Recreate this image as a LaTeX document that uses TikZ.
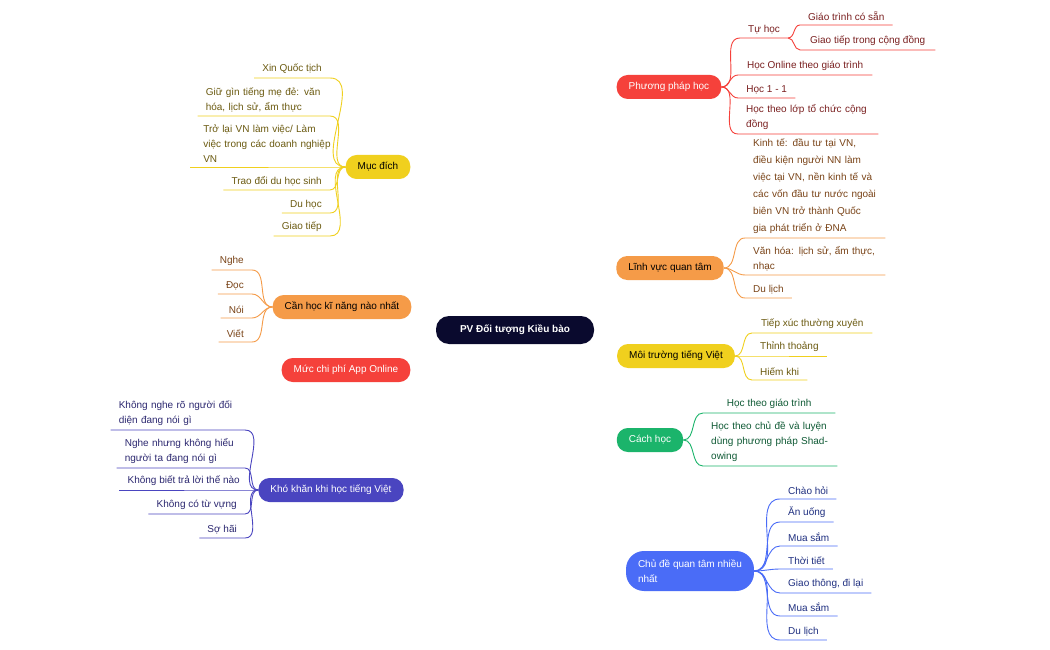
\documentclass[tikz,border=0pt]{standalone}
\usepackage{fontspec}
\setmainfont{Liberation Sans}
\usetikzlibrary{backgrounds}
\definecolor{cred}{HTML}{F5413B}\definecolor{tred}{HTML}{7A2020}
\definecolor{cora}{HTML}{F59B48}\definecolor{tora}{HTML}{7A4418}
\definecolor{cyel}{HTML}{F0D01E}\definecolor{tyel}{HTML}{6B5A10}
\definecolor{cgrn}{HTML}{1BB46B}\definecolor{tgrn}{HTML}{0F5A35}
\definecolor{cblu}{HTML}{4A6CF7}\definecolor{tblu}{HTML}{1F2F80}
\definecolor{cpur}{HTML}{4A45C0}\definecolor{tpur}{HTML}{2C2870}
\definecolor{cnav}{HTML}{0A0A2E}
\begin{document}
\begin{tikzpicture}[x=1pt,y=-1pt,font=\fontsize{10}{15}\selectfont,
 br/.style={rounded corners=11pt,minimum height=24pt,inner xsep=12pt,fill=#1,draw=none},
 lr/.style={anchor=south west,inner xsep=8pt,inner ysep=4pt,align=left},
 ll/.style={anchor=south east,inner xsep=8pt,inner ysep=4pt,align=left},
 cn/.style={line width=0.9pt}]
\fill[white] (0,0) rectangle (1050,650);
% center and branches
\node[br=cnav,text=white,font=\fontsize{10}{15}\selectfont\bfseries,minimum width=158pt,minimum height=28pt,rounded corners=13pt] (c) at (515,330) {PV Đối tượng Kiều bào};
\node[br=cred,text=white] (pp) at (669,87) {Phương pháp học};
\node[br=cora,text=black] (lv) at (670,268) {Lĩnh vực quan tâm};
\node[br=cyel,text=black] (mt) at (676,356) {Môi trường tiếng Việt};
\node[br=cgrn,text=white] (ch) at (650,440) {Cách học};
\node[br=cblu,text=white,align=left,minimum height=40pt,rounded corners=18pt] (cd) at (690,571) {Chủ đề quan tâm nhiều\\nhất};
\node[br=cyel,text=black] (md) at (378,167) {Mục đích};
\node[br=cora,text=black] (kn) at (342,307) {Cần học kĩ năng nào nhất};
\node[br=cred,text=white] (cp) at (346,370) {Mức chi phí App Online};
\node[br=cpur,text=white] (kk) at (331,490) {Khó khăn khi học tiếng Việt};
\coordinate (hu) at (520,316);\coordinate (hd) at (520,344);
\coordinate (hlu) at (505,316);\coordinate (hld) at (505,344);
\begin{scope}[on background layer,cn]
\draw[cred] (hu) to[out=95,in=180] (pp.west);
\draw[cora] (hu) to[out=80,in=180] (lv.west);
\draw[cyel] (hd) to[out=-60,in=180] (mt.west);
\draw[cgrn] (hd) to[out=-85,in=180] (ch.west);
\draw[cblu] (hd) to[out=-90,in=180] (cd.west);
\draw[cyel] (md.east) to[out=0,in=90] (hlu);
\draw[cora] (kn.east) to[out=0,in=120] (c.west);
\draw[cred] (cp.east) to[out=0,in=-120] (c.south west);
\draw[cpur] (kk.east) to[out=0,in=-90] (hld);
\end{scope}
% right leaves
\begin{scope}[text=tred]
\node[lr] (a1) at (740,38) {Tự học};
\node[lr] (a11) at (800,25) {Giáo trình có sẵn};
\node[lr,minimum width=135pt] (a12) at (800,50) {Giao tiếp trong cộng đồng};
\node[lr,minimum width=134pt] (a2) at (738,75) {Học Online theo giáo trình};
\node[lr,minimum width=57pt] (a3) at (738,98) {Học 1 - 1};
\node[lr,text width=124pt] (a4) at (738,134) {Học theo lớp tổ chức cộng đồng};
\end{scope}
\foreach \n in {a1,a2,a3,a4}{\draw[cn,cred] (pp.east) to[out=0,in=180] (\n.south west) -- (\n.south east);}
\foreach \n in {a11,a12}{\draw[cn,cred] (a1.south east) to[out=0,in=180] (\n.south west) -- (\n.south east);}
\begin{scope}[text=tora]
\node[lr,text width=124pt,font=\fontsize{10}{17}\selectfont] (b1) at (745,238) {Kinh tế: đầu tư tại VN, điều kiện người NN làm việc tại VN, nền kinh tế và các vốn đầu tư nước ngoài biên VN trở thành Quốc gia phát triển ở ĐNA};
\node[lr,text width=124pt] (b2) at (745,275) {Văn hóa: lịch sử, ẩm thực, nhạc};
\node[lr] (b3) at (745,298) {Du lịch};
\end{scope}
\foreach \n in {b1,b2,b3}{\draw[cn,cora] (lv.east) to[out=0,in=180] (\n.south west) -- (\n.south east);}
\begin{scope}[text=tyel]
\node[lr,minimum width=120pt] (m1) at (752,333) {Tiếp xúc thường xuyên};
\node[lr] (m2) at (752,356) {Thỉnh thoảng};
\node[lr] (m3) at (752,380) {Hiếm khi};
\end{scope}
\foreach \n in {m1,m2,m3}{\draw[cn,cyel] (mt.east) to[out=0,in=180] (\n.south west) -- (\n.south east);}
\begin{scope}[text=tgrn]
\node[lr,minimum width=132pt] (g1) at (703,413) {Học theo giáo trình};
\node[lr,text width=118pt] (g2) at (703,466) {Học theo chủ đề và luyện dùng phương pháp Shadowing};
\end{scope}
\foreach \n in {g1,g2}{\draw[cn,cgrn] (ch.east) to[out=0,in=180] (\n.south west) -- (\n.south east);}
\begin{scope}[text=tblu]
\node[lr] (u1) at (780,499) {Chào hỏi};
\node[lr] (u2) at (780,522) {Ăn uống};
\node[lr] (u3) at (780,546) {Mua sắm};
\node[lr] (u4) at (780,569) {Thời tiết};
\node[lr] (u5) at (780,593) {Giao thông, đi lại};
\node[lr] (u6) at (780,616) {Mua sắm};
\node[lr] (u7) at (780,640) {Du lịch};
\end{scope}
\foreach \n in {u1,u2,u3,u4,u5,u6,u7}{\draw[cn,cblu] (cd.east) to[out=0,in=180] (\n.south west) -- (\n.south east);}
% left leaves
\begin{scope}[text=tyel]
\node[ll] (l1) at (330,78) {Xin Quốc tịch};
\node[ll,text width=116pt] (l2) at (330,116) {Giữ gìn tiếng mẹ đẻ: văn hóa, lịch sử, ẩm thực};
\node[ll,text width=128pt,minimum width=155pt] (l3) at (345,167) {Trở lại VN làm việc/ Làm việc trong các doanh nghiệp VN};
\node[ll] (l4) at (330,190) {Trao đổi du học sinh};
\node[ll] (l5) at (330,213) {Du học};
\node[ll] (l6) at (330,236) {Giao tiếp};
\end{scope}
\foreach \n in {l1,l2,l3,l4,l5,l6}{\draw[cn,cyel] (md.west) to[out=180,in=0] (\n.south east) -- (\n.south west);}
\begin{scope}[text=tora]
\node[ll] (k1) at (252,270) {Nghe};
\node[ll] (k2) at (252,294) {Đọc};
\node[ll] (k3) at (252,318) {Nói};
\node[ll] (k4) at (252,342) {Viết};
\end{scope}
\foreach \n in {k1,k2,k3,k4}{\draw[cn,cora] (kn.west) to[out=180,in=0] (\n.south east) -- (\n.south west);}
\begin{scope}[text=tpur]
\node[ll,text width=118pt,minimum width=130pt] (p1) at (245,430) {Không nghe rõ người đối diện đang nói gì};
\node[ll,text width=112pt] (p2) at (245,468) {Nghe nhưng không hiểu người ta đang nói gì};
\node[ll] (p3) at (248,490) {Không biết trả lời thế nào};
\node[ll] (p4) at (245,514) {Không có từ vựng};
\node[ll] (p5) at (245,538) {Sợ hãi};
\end{scope}
\foreach \n in {p1,p2,p3,p4,p5}{\draw[cn,cpur] (kk.west) to[out=180,in=0] (\n.south east) -- (\n.south west);}
\end{tikzpicture}
\end{document}
